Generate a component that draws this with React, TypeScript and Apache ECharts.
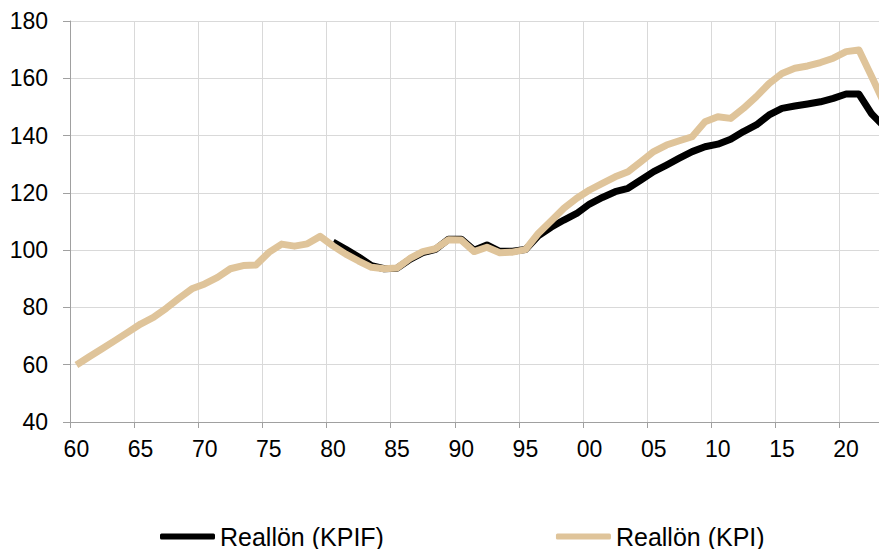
import React, { useEffect, useRef } from "react";
import * as echarts from "echarts";

const years: string[] = [];
for (let y = 1960; y <= 2023; y++) years.push(String(y));

const kpi: number[] = [
  59.9, 62.8, 65.6, 68.4, 71.3, 74.2, 76.5, 79.7, 83.2, 86.5,
  88.2, 90.5, 93.5, 94.6, 94.8, 99.2, 102.1, 101.4, 102.2, 104.8,
  101.5, 98.6, 96.2, 94.0, 93.5, 93.8, 97.1, 99.5, 100.5, 103.6,
  103.5, 99.5, 101.0, 99.1, 99.3, 100.2, 105.8, 110.2, 114.6, 118.1,
  121.0, 123.3, 125.6, 127.4, 130.9, 134.4, 136.7, 138.2, 139.6, 144.8,
  146.6, 146.0, 149.5, 153.6, 158.2, 161.7, 163.5, 164.3, 165.5, 167.0,
  169.3, 169.9, 160.5, 151.0,
];

const kpif: (number | null)[] = [
  null, null, null, null, null, null, null, null, null, null,
  null, null, null, null, null, null, null, null, null, null,
  102.8, 100.3, 97.6, 94.6, 93.5, 93.7, 96.8, 99.1, 100.3, 103.8,
  103.8, 100.0, 101.8, 99.6, 99.6, 100.2, 105.0, 108.0, 110.5, 112.8,
  116.1, 118.4, 120.4, 121.6, 124.5, 127.4, 129.7, 132.1, 134.4, 136.1,
  137.0, 138.7, 141.4, 143.7, 147.2, 149.5, 150.3, 151.0, 151.8, 153.0,
  154.5, 154.5, 147.5, 143.0,
];

const yTicks = { min: 40, max: 180, interval: 20 };

const FONT = "Arial, 'Liberation Sans', sans-serif";
const TAN = "#DFC49A";
const BLACK = "#000000";

export default function App() {
  const ref = useRef<HTMLDivElement>(null);
  useEffect(() => {
    if (!ref.current) return;
    const chart = echarts.init(ref.current, null, { renderer: "svg" });
    chart.setOption({
      animation: false,
      textStyle: { fontFamily: FONT },
      grid: { left: 70, top: 21, width: 821, height: 401, containLabel: false },
      legend: {
        left: 160,
        top: 524,
        padding: 0,
        itemWidth: 55,
        itemHeight: 6,
        itemGap: 172,
        textStyle: { fontSize: 25, color: "#000", fontFamily: FONT },
        data: [
          { name: "Reallön (KPIF)", icon: "roundRect", itemStyle: { color: BLACK } },
          { name: "Reallön (KPI)", icon: "roundRect", itemStyle: { color: TAN } },
        ],
      },
      xAxis: {
        type: "category",
        data: years,
        boundaryGap: true,
        axisLine: { lineStyle: { color: "#a0a0a0", width: 1 } },
        axisTick: { show: true, interval: 4, length: 6, lineStyle: { color: "#a0a0a0" } },
        axisLabel: {
          interval: 4,
          margin: 15,
          fontSize: 23,
          color: "#000",
          fontFamily: FONT,
          formatter: (v: string) => v.slice(2),
        },
        splitLine: { show: true, interval: 4, lineStyle: { color: "#d9d9d9", width: 1 } },
      },
      yAxis: {
        type: "value",
        min: yTicks.min,
        max: yTicks.max,
        interval: yTicks.interval,
        axisLine: { show: true, lineStyle: { color: "#a0a0a0", width: 1 } },
        axisTick: { show: true, length: 7, lineStyle: { color: "#a0a0a0" } },
        axisLabel: { margin: 22, fontSize: 23, color: "#000", fontFamily: FONT },
        splitLine: { show: true, lineStyle: { color: "#d9d9d9", width: 1 } },
      },
      series: [
        {
          name: "Reallön (KPIF)",
          type: "line",
          data: kpif,
          showSymbol: false,
          connectNulls: false,
          color: BLACK,
          lineStyle: { color: BLACK, width: 7, join: "round", cap: "butt" },
        },
        {
          name: "Reallön (KPI)",
          type: "line",
          data: kpi,
          showSymbol: false,
          color: TAN,
          lineStyle: { color: TAN, width: 7, join: "round", cap: "butt" },
        },
      ],
    });
    return () => chart.dispose();
  }, []);
  return (
    <div
      style={{ position: "fixed", left: 0, top: 0, width: 879, height: 549, overflow: "hidden", background: "#fff" }}
    >
      <div ref={ref} style={{ width: 900, height: 549 }} />
    </div>
  );
}
